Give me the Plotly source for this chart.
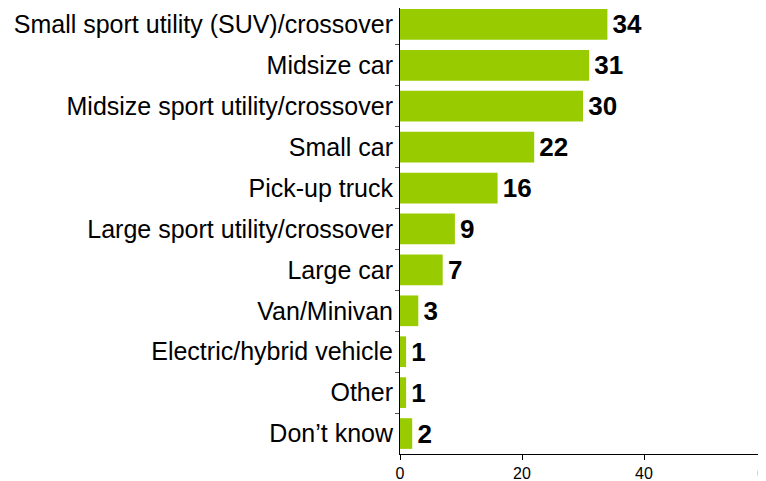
import plotly.graph_objects as go

categories = [
    "Small sport utility (SUV)/crossover",
    "Midsize car",
    "Midsize sport utility/crossover",
    "Small car",
    "Pick-up truck",
    "Large sport utility/crossover",
    "Large car",
    "Van/Minivan",
    "Electric/hybrid vehicle",
    "Other",
    "Don\u2019t know",
]
values = [34, 31, 30, 22, 16, 9, 7, 3, 1, 1, 2]
x_ticks = [0, 20, 40, 60]

fig = go.Figure(
    go.Bar(
        x=values,
        y=categories,
        orientation="h",
        marker=dict(color="#99CC00", line=dict(width=0)),
        text=[str(v) for v in values],
        textposition="outside",
        textfont=dict(family="Liberation Sans, Arial, sans-serif", size=26, color="#000000"),
        texttemplate="\u200a<b>%{text}</b>",
        cliponaxis=False,
        constraintext="none",
    )
)

fig.update_layout(
    width=758,
    height=473,
    margin=dict(l=392, r=0, t=0, b=27, autoexpand=False),
    plot_bgcolor="white",
    paper_bgcolor="white",
    bargap=0.25,
    showlegend=False,
    font=dict(family="Liberation Sans, Arial, sans-serif", color="#000000"),
)

fig.update_xaxes(
    range=[0, 60],
    tickvals=x_ticks,
    showgrid=False,
    zeroline=False,
    showline=True,
    linecolor="#000000",
    linewidth=1,
    ticks="outside",
    ticklen=5,
    tickcolor="#000000",
    tickfont=dict(size=16),
    automargin=False,
    ticklabeloverflow="allow",
)

fig.update_yaxes(
    range=[10.5, -0.4],
    showgrid=False,
    showline=True,
    linecolor="#000000",
    linewidth=1,
    ticks="outside",
    tickson="boundaries",
    ticklen=4,
    tickcolor="#555555",
    tickfont=dict(size=25),
    automargin=False,
    ticklabelstandoff=1,
)

fig.write_html("out.html")
